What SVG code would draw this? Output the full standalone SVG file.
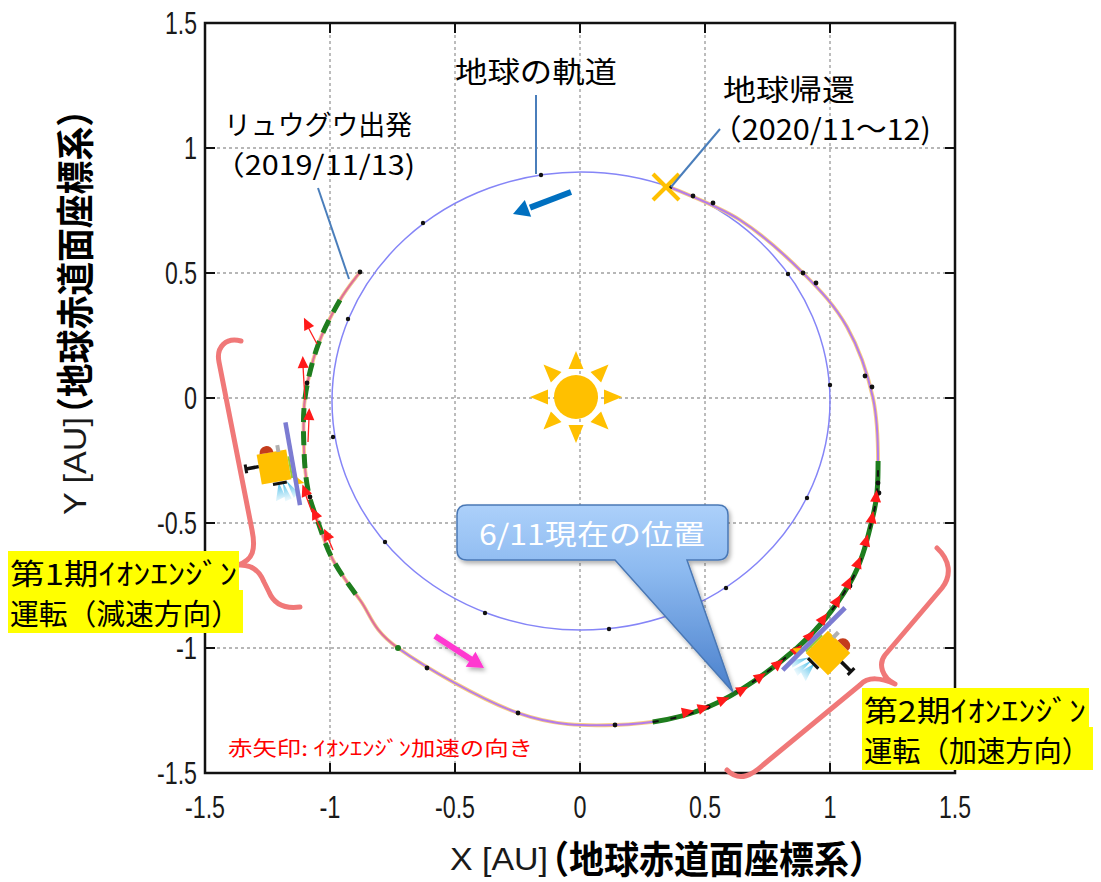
<svg xmlns="http://www.w3.org/2000/svg" width="1101" height="882" viewBox="0 0 1101 882">
<defs>
<style>
.grid{stroke:#a0a0a0;stroke-width:1.4;stroke-dasharray:3 3;fill:none}
.frame{fill:none;stroke:#111;stroke-width:2.5}
.tick{stroke:#111;stroke-width:2}
.num{font-family:'Liberation Sans',Arial,sans-serif;font-size:31px;fill:#1a1a1a}
.jp{font-family:'Noto Sans CJK JP','Noto Sans',sans-serif;fill:#000}
.lead{stroke:#4a7ebb;stroke-width:2;fill:none}
.dot{fill:#111}
.hl{fill:#ffff00}
.brace{fill:none;stroke:#f07878;stroke-width:5;stroke-linecap:round;stroke-linejoin:round}
.stem{stroke:#ff2020;stroke-width:1.3;fill:none}
.sun{fill:#ffc000}
</style>
<linearGradient id="callGrad" gradientUnits="userSpaceOnUse" x1="0" y1="505" x2="0" y2="692">
<stop offset="0" stop-color="#acd0fa"/>
<stop offset="0.35" stop-color="#8dbaf0"/>
<stop offset="1" stop-color="#4a80cc"/>
</linearGradient>
<linearGradient id="plume" x1="0" y1="0" x2="0" y2="1">
<stop offset="0" stop-color="#38b6e6"/>
<stop offset="1" stop-color="#e6f7fd" stop-opacity="0.6"/>
</linearGradient>
<filter id="shadow" x="-20%" y="-20%" width="140%" height="140%">
<feDropShadow dx="2" dy="3" stdDeviation="2" flood-color="#000" flood-opacity="0.3"/>
</filter>
<!-- probe trajectory geometry, stroked twice below -->
<path id="trajGeom" d="M360,272 C356.7,276.7 347,287.8 340,300 C333,312.2 323.8,328.7 318,345 C312.2,361.3 307.3,380.5 305,398 C302.7,415.5 303.5,434.7 304,450 C304.5,465.3 305.7,478 308,490 C310.3,502 313.8,510.3 318,522 C322.2,533.7 326,547 333,560 C340,573 349.2,585.3 360,600 C370.8,614.7 371.7,629.2 398,648 C424.3,666.8 481.8,700.2 518,713 C554.2,725.8 583.3,726 615,725 C646.7,724 677.7,719.8 708,707 C738.3,694.2 773.3,668.7 797,648 C820.7,627.3 837.5,604.3 850,583 C862.5,561.7 867.3,538.8 872,520 C876.7,501.2 877.8,490.3 878,470 C878.2,449.7 878.2,421.8 873,398 C867.8,374.2 858.7,347.8 847,327 C835.3,306.2 820.8,290.8 803,273 C785.2,255.2 762.2,234.3 740,220 C717.8,205.7 681.7,192.5 670,187"/>
<path id="thrustGeom" d="M652.7,721.9 C671.4,719.3 689.8,714.7 708,707 C738.3,694.2 773.3,668.7 797,648 C820.7,627.3 837.5,604.3 850,583 C862.5,561.7 867.3,538.8 872,520 C876.7,501.2 877.8,490.3 878,470 L878.1,461"/>
<polygon id="redTri" points="7,0 -5,-5.5 -5,5.5" fill="#ff1a1a"/>
<polygon id="ray" points="0,-46 -7.5,-28 7.5,-28"/>
<!-- spacecraft drawn around its own centre -->
<g id="craft">
<path d="M2,16 L-4,34 L6,31 Z M6,16 L5,36 L12,34 Z M10,16 L14,34 L20,30 Z" fill="url(#plume)"/>
<rect x="-15" y="-15" width="30" height="30" fill="#ffc000"/>
<path d="M-12,-15 A7,7 0 0 1 2,-15 Z" fill="#c43c1c"/>
<rect x="5" y="-21" width="4" height="7" fill="#b0b0b0"/>
<line x1="-15" y1="-3" x2="-28" y2="-3" stroke="#111" stroke-width="3.5"/>
<line x1="-28" y1="-7.5" x2="-28" y2="1.5" stroke="#111" stroke-width="3"/>
<line x1="-4" y1="17" x2="10" y2="17" stroke="#111" stroke-width="3"/>
<line x1="16" y1="-8" x2="16" y2="14" stroke="#9acd32" stroke-width="2"/>
<polygon points="19,12 27,21 19,21" fill="#ffc000"/>
<line x1="19" y1="-42" x2="19" y2="42" stroke="#7c7cd2" stroke-width="4.5"/>
</g>
</defs>

<rect width="1101" height="882" fill="#fff"/>

<!-- grid -->
<g id="grid" class="grid">
<path d="M330,23V773M455,23V773M580,23V773M705,23V773M830,23V773"/>
<path d="M205,148H955M205,273H955M205,398H955M205,523H955M205,648H955"/>
</g>

<!-- orbits -->
<g id="earth-orbit">
<ellipse cx="581" cy="401" rx="249" ry="229" fill="none" stroke="#8585f7" stroke-width="1.5"/>
<g class="dot">
<circle cx="830" cy="385" r="2.2"/><circle cx="788" cy="274" r="2.2"/><circle cx="541" cy="175" r="2.2"/>
<circle cx="423" cy="223" r="2.2"/><circle cx="348" cy="319" r="2.2"/><circle cx="333" cy="437" r="2.2"/>
<circle cx="385" cy="542" r="2.2"/><circle cx="485" cy="613" r="2.2"/><circle cx="609" cy="629" r="2.2"/>
<circle cx="726" cy="588" r="2.2"/><circle cx="807" cy="498" r="2.2"/>
</g>
</g>

<g id="trajectory" fill="none">
<use href="#trajGeom" stroke="#f9cc80" stroke-width="3.8"/>
<use href="#trajGeom" stroke="#b47cea" stroke-width="2"/>
<path d="M360,272 C356.7,276.7 347,287.8 340,300 C333,312.2 323.8,328.7 318,345 C312.2,361.3 307.3,380.5 305,398 C302.7,415.5 303.5,434.7 304,450 C304.5,465.3 305.7,478 308,490 C310.3,502 313.8,510.3 318,522 C322.2,533.7 326,547 333,560 C340,573 349.2,585.3 360,600 C370.8,614.7 371.7,629.2 398,648" stroke="#e8708a" stroke-width="1.6"/>

<!-- thrust arcs -->
<path d="M340,300 C333,312.2 323.8,328.7 318,345 C312.2,361.3 307.3,380.5 305,398 C302.7,415.5 303.5,434.7 304,450 C304.5,465.3 305.7,478 308,490 C310.3,502 313.8,510.3 318,522 C322.2,533.7 326,547 333,560 C340,573 349.2,585.3 360,600" stroke="#1e7d1e" stroke-width="5" stroke-dasharray="14 9"/>
<circle cx="398" cy="648" r="3" fill="#1e7d1e"/>
<use href="#thrustGeom" stroke="#1e7d1e" stroke-width="5"/>
<use href="#thrustGeom" stroke="#111" stroke-width="2" stroke-dasharray="6 12"/>

<g class="dot">
<circle cx="360" cy="272" r="2.4"/><circle cx="307" cy="383" r="2.4"/><circle cx="310" cy="497" r="2.4"/>
<circle cx="427" cy="668" r="2.4"/><circle cx="518" cy="713" r="2.4"/><circle cx="615" cy="725" r="2.4"/>
<circle cx="708" cy="707" r="2.4"/><circle cx="850" cy="586" r="2.4"/><circle cx="878" cy="483" r="2.4"/>
<circle cx="879" cy="493" r="2.4"/><circle cx="865" cy="376" r="2.4"/><circle cx="872" cy="387" r="2.4"/>
<circle cx="803" cy="273" r="2.4"/><circle cx="816" cy="283" r="2.4"/><circle cx="693" cy="196" r="2.4"/>
<circle cx="713" cy="203" r="2.4"/><circle cx="670" cy="187" r="2.4"/>
</g>

<!-- thrust direction arrows -->
<g id="thrust-arrows">
<path class="stem" d="M317,344L308,327M305,400L303,366M308,442L309,418M312,512L306,496M321,530L315,517M333,550L328,538"/>
<use href="#redTri" transform="translate(307,324) rotate(-116)"/>
<use href="#redTri" transform="translate(303,363) rotate(-92)"/>
<use href="#redTri" transform="translate(309,415) rotate(-88)"/>
<use href="#redTri" transform="translate(305,491) rotate(-112)"/>
<use href="#redTri" transform="translate(315,514) rotate(-115)"/>
<use href="#redTri" transform="translate(327,535) rotate(-115)"/>
<use href="#redTri" transform="translate(687,712) rotate(-12)"/>
<use href="#redTri" transform="translate(703,708) rotate(-17)"/>
<use href="#redTri" transform="translate(723,700) rotate(-22)"/>
<use href="#redTri" transform="translate(742,690) rotate(-28)"/>
<use href="#redTri" transform="translate(760,677) rotate(-35)"/>
<use href="#redTri" transform="translate(778,664) rotate(-40)"/>
<use href="#redTri" transform="translate(797,650) rotate(-45)"/>
<use href="#redTri" transform="translate(810,636) rotate(-50)"/>
<use href="#redTri" transform="translate(823,619) rotate(-55)"/>
<use href="#redTri" transform="translate(837,601) rotate(-60)"/>
<use href="#redTri" transform="translate(848,583) rotate(-65)"/>
<use href="#redTri" transform="translate(858,563) rotate(-70)"/>
<use href="#redTri" transform="translate(866,541) rotate(-75)"/>
<use href="#redTri" transform="translate(872,518) rotate(-80)"/>
<use href="#redTri" transform="translate(876,497) rotate(-85)"/>
</g>
</g>

<!-- plot frame and ticks -->
<g id="axes">
<rect class="frame" x="205" y="23" width="750" height="750"/>
<path class="tick" d="M330,773v-10M455,773v-10M580,773v-10M705,773v-10M830,773v-10M330,23v10M455,23v10M580,23v10M705,23v10M830,23v10M205,148h10M205,273h10M205,398h10M205,523h10M205,648h10M955,148h-10M955,273h-10M955,398h-10M955,523h-10M955,648h-10"/>
<g class="num" text-anchor="end">
<text x="197" y="34" textLength="32" lengthAdjust="spacingAndGlyphs">1.5</text>
<text x="197" y="159" textLength="13" lengthAdjust="spacingAndGlyphs">1</text>
<text x="197" y="284" textLength="32" lengthAdjust="spacingAndGlyphs">0.5</text>
<text x="197" y="409" textLength="13" lengthAdjust="spacingAndGlyphs">0</text>
<text x="197" y="534" textLength="40" lengthAdjust="spacingAndGlyphs">-0.5</text>
<text x="197" y="659" textLength="21" lengthAdjust="spacingAndGlyphs">-1</text>
<text x="197" y="784" textLength="40" lengthAdjust="spacingAndGlyphs">-1.5</text>
</g>
<g class="num" text-anchor="middle">
<text x="205" y="818" textLength="40" lengthAdjust="spacingAndGlyphs">-1.5</text>
<text x="330" y="818" textLength="21" lengthAdjust="spacingAndGlyphs">-1</text>
<text x="455" y="818" textLength="40" lengthAdjust="spacingAndGlyphs">-0.5</text>
<text x="580" y="818" textLength="13" lengthAdjust="spacingAndGlyphs">0</text>
<text x="705" y="818" textLength="32" lengthAdjust="spacingAndGlyphs">0.5</text>
<text x="830" y="818" textLength="13" lengthAdjust="spacingAndGlyphs">1</text>
<text x="955" y="818" textLength="32" lengthAdjust="spacingAndGlyphs">1.5</text>
</g>
<text class="num" x="450" y="870" font-size="33" textLength="98" lengthAdjust="spacingAndGlyphs">X [AU]</text>
<text class="jp" x="534" y="873" font-size="38" font-weight="bold" textLength="350" lengthAdjust="spacingAndGlyphs">（地球赤道面座標系）</text>
<g transform="translate(74,305) rotate(-90)">
<text class="num" x="-210" y="12" font-size="33" textLength="98" lengthAdjust="spacingAndGlyphs">Y [AU]</text>
<text class="jp" x="-126" y="15" font-size="38" font-weight="bold" textLength="338" lengthAdjust="spacingAndGlyphs">（地球赤道面座標系）</text>
</g>
</g>

<!-- sun -->
<g id="sun" class="sun" transform="translate(576,397)">
<circle r="22"/>
<use href="#ray"/><use href="#ray" transform="rotate(45)"/><use href="#ray" transform="rotate(90)"/><use href="#ray" transform="rotate(135)"/>
<use href="#ray" transform="rotate(180)"/><use href="#ray" transform="rotate(225)"/><use href="#ray" transform="rotate(270)"/><use href="#ray" transform="rotate(315)"/>
</g>

<!-- motion arrows -->
<g id="earth-arrow">
<line x1="571" y1="192" x2="530" y2="207.6" stroke="#0070c0" stroke-width="6"/>
<polygon points="513,214 531.2,216.7 524.8,199.9" fill="#0070c0"/>
</g>
<g id="probe-arrow" filter="url(#shadow)">
<line x1="435" y1="636" x2="472" y2="660" stroke="#ff38d0" stroke-width="6"/>
<polygon points="484,668 465.7,666.8 475.5,651.7" fill="#ff38d0"/>
</g>

<!-- Earth return mark -->
<g id="return-mark" stroke="#ffc000" stroke-width="4">
<line x1="653" y1="174" x2="679" y2="200"/>
<line x1="679" y1="174" x2="653" y2="200"/>
</g>

<!-- leaders -->
<g id="leaders" class="lead">
<line x1="318" y1="188" x2="349" y2="279"/>
<line x1="536" y1="95" x2="536" y2="174"/>
<line x1="720" y1="129" x2="671" y2="187"/>
</g>

<g id="label-departure" class="jp" font-size="27">
<text><tspan x="224" y="135" textLength="188" lengthAdjust="spacingAndGlyphs">リュウグウ出発</tspan><tspan x="214" y="175" textLength="201" lengthAdjust="spacingAndGlyphs">（2019/11/13)</tspan></text>
</g>
<g id="label-earth-orbit" class="jp" font-size="29">
<text x="455" y="83" textLength="162" lengthAdjust="spacingAndGlyphs">地球の軌道</text>
</g>
<g id="label-return" class="jp" font-size="29">
<text><tspan x="723" y="101" textLength="132" lengthAdjust="spacingAndGlyphs">地球帰還</tspan><tspan x="711" y="140" textLength="220" lengthAdjust="spacingAndGlyphs">（2020/11〜12)</tspan></text>
</g>

<!-- spacecraft -->
<g id="craft-1"><use href="#craft" transform="translate(274,467) rotate(-10)"/></g>
<g id="craft-2"><use href="#craft" transform="translate(828,653) rotate(-135) scale(1.05,-1.05)"/></g>

<!-- braces -->
<g id="brace-1"><path class="brace" d="M241,341 C226,337 216,347 219,362 L252,530 C256,550 253,560 238,565 C252,564 260,572 264,582 L269,592 C274,604 285,609 300,607"/></g>
<g id="brace-2"><path class="brace" d="M937,548 C950,560 952,575 942,588 L885,655 C878,664 882,678 895,684 C882,678 868,676 860,685 L763,765 C753,774 740,783 727,770"/></g>

<!-- current position callout -->
<g id="callout-now">
<path d="M467,505 H718 Q728,505 728,515 V550 Q728,560 718,560 H687 L733,692 L615,560 H467 Q457,560 457,550 V515 Q457,505 467,505 Z" fill="url(#callGrad)" stroke="#4a78b5" stroke-width="1.5" filter="url(#shadow)"/>
<text class="jp" x="592" y="545" font-size="28" style="fill:#fff" text-anchor="middle" textLength="226" lengthAdjust="spacingAndGlyphs">6/11現在の位置</text>
</g>

<!-- phase labels -->
<g id="label-phase1">
<rect class="hl" x="8" y="551" width="231" height="40"/>
<rect class="hl" x="8" y="590" width="235" height="43"/>
<text class="jp" font-size="29"><tspan x="10" y="585" textLength="227" lengthAdjust="spacingAndGlyphs">第1期ｲｵﾝｴﾝｼﾞﾝ</tspan><tspan x="10" y="625" textLength="230" lengthAdjust="spacingAndGlyphs">運転（減速方向）</tspan></text>
</g>
<g id="label-phase2">
<rect class="hl" x="862" y="688" width="227" height="40"/>
<rect class="hl" x="862" y="727" width="231" height="43"/>
<text class="jp" font-size="29"><tspan x="864" y="722" textLength="222" lengthAdjust="spacingAndGlyphs">第2期ｲｵﾝｴﾝｼﾞﾝ</tspan><tspan x="864" y="762" textLength="226" lengthAdjust="spacingAndGlyphs">運転（加速方向）</tspan></text>
</g>

<g id="label-legend">
<text class="jp" x="228" y="756" font-size="20" style="fill:#ff0000" textLength="305" lengthAdjust="spacingAndGlyphs">赤矢印: ｲｵﾝｴﾝｼﾞﾝ加速の向き</text>
</g>
</svg>
